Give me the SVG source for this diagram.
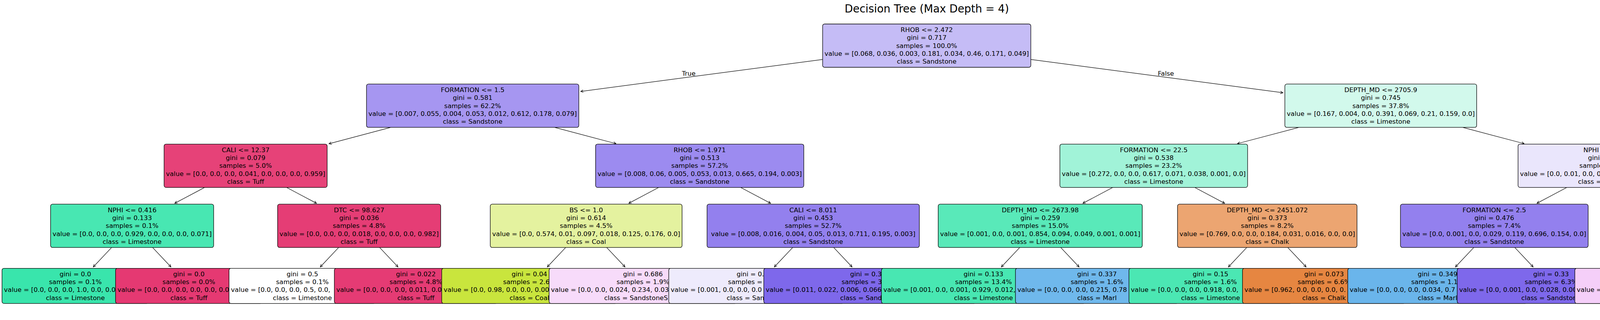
<svg xmlns="http://www.w3.org/2000/svg" width="4772" height="820" viewBox="0 0 4772 820">
<style>
text{font-family:"DejaVu Sans","Liberation Sans",sans-serif;font-size:16.5px;fill:#000;text-anchor:middle}
.b{stroke:#000;stroke-width:1.3}
.e{stroke:#000;stroke-width:1.2;fill:none;marker-end:url(#ah)}
.t{font-size:27.5px}
.lt{text-anchor:end}
.lf,.s{text-anchor:start}
</style>
<defs>
<marker id="ah" markerUnits="userSpaceOnUse" viewBox="0 0 10 8" markerWidth="10" markerHeight="8" refX="7" refY="4" orient="auto" overflow="visible"><path d="M0.4,0.7L7,4L0.4,7.3" fill="none" stroke="#000" stroke-width="1.2"/></marker>
</defs>
<rect width="4772" height="820" fill="#fff"/>
<text class="t" x="2372.7" y="31.7">Decision Tree (Max Depth = 4)</text>
<g id="connectors">
<line class="e" x1="2105.9" y1="152.3" x2="1486.7" y2="234.3"/>
<line class="e" x1="2638.9" y1="152.3" x2="3284.3" y2="237.7"/>
<line class="e" x1="1000.4" y1="326.4" x2="842.2" y2="368.3"/>
<line class="e" x1="1419.6" y1="326.4" x2="1576.8" y2="368.0"/>
<line class="e" x1="3325.2" y1="326.4" x2="3168.0" y2="368.0"/>
<line class="e" x1="3744.4" y1="326.4" x2="3901.6" y2="368.0"/>
<line class="e" x1="524.0" y1="480.3" x2="447.4" y2="520.9"/>
<line class="e" x1="733.6" y1="480.3" x2="810.2" y2="520.9"/>
<line class="e" x1="1686.4" y1="480.3" x2="1609.8" y2="520.9"/>
<line class="e" x1="1896.0" y1="480.3" x2="1972.6" y2="520.9"/>
<line class="e" x1="2848.8" y1="480.3" x2="2772.2" y2="520.9"/>
<line class="e" x1="3058.4" y1="480.3" x2="3135.0" y2="520.9"/>
<line class="e" x1="4011.2" y1="480.3" x2="3934.6" y2="520.9"/>
<line class="e" x1="4220.8" y1="480.3" x2="4297.4" y2="520.9"/>
<line class="e" x1="285.8" y1="634.2" x2="238.8" y2="684.0"/>
<line class="e" x1="390.6" y1="634.2" x2="437.6" y2="684.0"/>
<line class="e" x1="867.0" y1="634.2" x2="820.0" y2="684.0"/>
<line class="e" x1="971.8" y1="634.2" x2="1018.8" y2="684.0"/>
<line class="e" x1="1448.2" y1="634.2" x2="1401.2" y2="684.0"/>
<line class="e" x1="1553.0" y1="634.2" x2="1600.0" y2="684.0"/>
<line class="e" x1="2029.4" y1="634.2" x2="1982.4" y2="684.0"/>
<line class="e" x1="2134.2" y1="634.2" x2="2181.2" y2="684.0"/>
<line class="e" x1="2610.6" y1="634.2" x2="2563.6" y2="684.0"/>
<line class="e" x1="2715.4" y1="634.2" x2="2762.4" y2="684.0"/>
<line class="e" x1="3191.8" y1="634.2" x2="3144.8" y2="684.0"/>
<line class="e" x1="3296.6" y1="634.2" x2="3343.6" y2="684.0"/>
<line class="e" x1="3773.0" y1="634.2" x2="3726.0" y2="684.0"/>
<line class="e" x1="3877.8" y1="634.2" x2="3924.8" y2="684.0"/>
<line class="e" x1="4354.2" y1="634.2" x2="4307.2" y2="684.0"/>
<line class="e" x1="4459.0" y1="634.2" x2="4506.0" y2="684.0"/>
<text class="lt" x="1780.7" y="194">True</text>
<text class="lf" x="2964.1" y="194">False</text>
</g>
<g id="node-root">
<rect class="b" x="2105.9" y="61.5" width="533" height="111" rx="5" fill="#c5bcf6"/>
<text><tspan x="2372.4" y="81.8">RHOB &lt;= 2.472</tspan><tspan x="2372.4" y="102.2">gini = 0.717</tspan><tspan x="2372.4" y="122.6">samples = 100.0%</tspan><tspan x="2372.4" y="143.0">value = [0.068, 0.036, 0.003, 0.181, 0.034, 0.46, 0.171, 0.049]</tspan><tspan x="2372.4" y="163.4">class = Sandstone</tspan></text>
</g>
<g id="node-1">
<rect class="b" x="938.25" y="215.4" width="543.5" height="111" rx="5" fill="#a696f1"/>
<text><tspan x="1210" y="235.7">FORMATION &lt;= 1.5</tspan><tspan x="1210" y="256.1">gini = 0.581</tspan><tspan x="1210" y="276.5">samples = 62.2%</tspan><tspan x="1210" y="296.9">value = [0.007, 0.055, 0.004, 0.053, 0.012, 0.612, 0.178, 0.079]</tspan><tspan x="1210" y="317.3">class = Sandstone</tspan></text>
</g>
<g id="node-2">
<rect class="b" x="3289.3" y="215.4" width="491" height="111" rx="5" fill="#d2f9ec"/>
<text><tspan x="3534.8" y="235.7">DEPTH_MD &lt;= 2705.9</tspan><tspan x="3534.8" y="256.1">gini = 0.745</tspan><tspan x="3534.8" y="276.5">samples = 37.8%</tspan><tspan x="3534.8" y="296.9">value = [0.167, 0.004, 0.0, 0.391, 0.069, 0.21, 0.159, 0.0]</tspan><tspan x="3534.8" y="317.3">class = Limestone</tspan></text>
</g>
<g id="node-3">
<rect class="b" x="420.05" y="369.3" width="417.5" height="111" rx="5" fill="#e64278"/>
<text><tspan x="628.8" y="389.6">CALI &lt;= 12.37</tspan><tspan x="628.8" y="410.0">gini = 0.079</tspan><tspan x="628.8" y="430.4">samples = 5.0%</tspan><tspan x="628.8" y="450.8">value = [0.0, 0.0, 0.0, 0.041, 0.0, 0.0, 0.0, 0.959]</tspan><tspan x="628.8" y="471.2">class = Tuff</tspan></text>
</g>
<g id="node-4">
<rect class="b" x="1524.7" y="369.3" width="533" height="111" rx="5" fill="#9c8bf0"/>
<text><tspan x="1791.2" y="389.6">RHOB &lt;= 1.971</tspan><tspan x="1791.2" y="410.0">gini = 0.513</tspan><tspan x="1791.2" y="430.4">samples = 57.2%</tspan><tspan x="1791.2" y="450.8">value = [0.008, 0.06, 0.005, 0.053, 0.013, 0.665, 0.194, 0.003]</tspan><tspan x="1791.2" y="471.2">class = Sandstone</tspan></text>
</g>
<g id="node-5">
<rect class="b" x="2713.35" y="369.3" width="480.5" height="111" rx="5" fill="#a1f3d8"/>
<text><tspan x="2953.6" y="389.6">FORMATION &lt;= 22.5</tspan><tspan x="2953.6" y="410.0">gini = 0.538</tspan><tspan x="2953.6" y="430.4">samples = 23.2%</tspan><tspan x="2953.6" y="450.8">value = [0.272, 0.0, 0.0, 0.617, 0.071, 0.038, 0.001, 0.0]</tspan><tspan x="2953.6" y="471.2">class = Limestone</tspan></text>
</g>
<g id="node-6">
<rect class="b" x="3886.25" y="369.3" width="459.5" height="111" rx="5" fill="#eae6fc"/>
<text><tspan x="4116" y="389.6">NPHI &lt;= 0.207</tspan><tspan x="4116" y="410.0">gini = 0.593</tspan><tspan x="4116" y="430.4">samples = 14.6%</tspan><tspan x="4116" y="450.8">value = [0.0, 0.01, 0.0, 0.031, 0.066, 0.483, 0.41, 0.0]</tspan><tspan x="4116" y="471.2">class = Sandstone</tspan></text>
</g>
<g id="node-7">
<rect class="b" x="129.45" y="523.2" width="417.5" height="111" rx="5" fill="#48e7b2"/>
<text><tspan x="338.2" y="543.5">NPHI &lt;= 0.416</tspan><tspan x="338.2" y="563.9">gini = 0.133</tspan><tspan x="338.2" y="584.3">samples = 0.1%</tspan><tspan x="338.2" y="604.7">value = [0.0, 0.0, 0.0, 0.929, 0.0, 0.0, 0.0, 0.071]</tspan><tspan x="338.2" y="625.1">class = Limestone</tspan></text>
</g>
<g id="node-8">
<rect class="b" x="710.65" y="523.2" width="417.5" height="111" rx="5" fill="#e53d75"/>
<text><tspan x="919.4" y="543.5">DTC &lt;= 98.627</tspan><tspan x="919.4" y="563.9">gini = 0.036</tspan><tspan x="919.4" y="584.3">samples = 4.8%</tspan><tspan x="919.4" y="604.7">value = [0.0, 0.0, 0.0, 0.018, 0.0, 0.0, 0.0, 0.982]</tspan><tspan x="919.4" y="625.1">class = Tuff</tspan></text>
</g>
<g id="node-9">
<rect class="b" x="1255.1" y="523.2" width="491" height="111" rx="5" fill="#e4f29f"/>
<text><tspan x="1500.6" y="543.5">BS &lt;= 1.0</tspan><tspan x="1500.6" y="563.9">gini = 0.614</tspan><tspan x="1500.6" y="584.3">samples = 4.5%</tspan><tspan x="1500.6" y="604.7">value = [0.0, 0.574, 0.01, 0.097, 0.018, 0.125, 0.176, 0.0]</tspan><tspan x="1500.6" y="625.1">class = Coal</tspan></text>
</g>
<g id="node-10">
<rect class="b" x="1810.05" y="523.2" width="543.5" height="111" rx="5" fill="#9380ee"/>
<text><tspan x="2081.8" y="543.5">CALI &lt;= 8.011</tspan><tspan x="2081.8" y="563.9">gini = 0.453</tspan><tspan x="2081.8" y="584.3">samples = 52.7%</tspan><tspan x="2081.8" y="604.7">value = [0.008, 0.016, 0.004, 0.05, 0.013, 0.711, 0.195, 0.003]</tspan><tspan x="2081.8" y="625.1">class = Sandstone</tspan></text>
</g>
<g id="node-11">
<rect class="b" x="2401.75" y="523.2" width="522.5" height="111" rx="5" fill="#59e9b9"/>
<text><tspan x="2663" y="543.5">DEPTH_MD &lt;= 2673.98</tspan><tspan x="2663" y="563.9">gini = 0.259</tspan><tspan x="2663" y="584.3">samples = 15.0%</tspan><tspan x="2663" y="604.7">value = [0.001, 0.0, 0.001, 0.854, 0.094, 0.049, 0.001, 0.001]</tspan><tspan x="2663" y="625.1">class = Limestone</tspan></text>
</g>
<g id="node-12">
<rect class="b" x="3014.45" y="523.2" width="459.5" height="111" rx="5" fill="#eca571"/>
<text><tspan x="3244.2" y="543.5">DEPTH_MD &lt;= 2451.072</tspan><tspan x="3244.2" y="563.9">gini = 0.373</tspan><tspan x="3244.2" y="584.3">samples = 8.2%</tspan><tspan x="3244.2" y="604.7">value = [0.769, 0.0, 0.0, 0.184, 0.031, 0.016, 0.0, 0.0]</tspan><tspan x="3244.2" y="625.1">class = Chalk</tspan></text>
</g>
<g id="node-13">
<rect class="b" x="3585.15" y="523.2" width="480.5" height="111" rx="5" fill="#9380ee"/>
<text><tspan x="3825.4" y="543.5">FORMATION &lt;= 2.5</tspan><tspan x="3825.4" y="563.9">gini = 0.476</tspan><tspan x="3825.4" y="584.3">samples = 7.4%</tspan><tspan x="3825.4" y="604.7">value = [0.0, 0.001, 0.0, 0.029, 0.119, 0.696, 0.154, 0.0]</tspan><tspan x="3825.4" y="625.1">class = Sandstone</tspan></text>
</g>
<g id="node-14">
<rect class="b" x="4171.6" y="523.2" width="470" height="111" rx="5" fill="#e992f1"/>
<text><tspan x="4406.6" y="543.5">DEPTH_MD &lt;= 3480.652</tspan><tspan x="4406.6" y="563.9">gini = 0.478</tspan><tspan x="4406.6" y="584.3">samples = 7.2%</tspan><tspan x="4406.6" y="604.7">value = [0.0, 0.019, 0.0, 0.032, 0.012, 0.266, 0.67, 0.0]</tspan><tspan x="4406.6" y="625.1">class = SandstoneShale</tspan></text>
</g>
<g id="leaf-0">
<rect class="b" x="5.15" y="687.6" width="375.5" height="90" rx="5" fill="#39e5ac"/>
<text><tspan x="192.9" y="707.6">gini = 0.0</tspan><tspan x="192.9" y="728.0">samples = 0.1%</tspan><tspan x="192.9" y="768.8">class = Limestone</tspan></text>
<text class="s" x="10.1" y="748.4">value = [0.0, 0.0, 0.0, 1.0, 0.0, 0.0</text>
</g>
<g id="leaf-1">
<rect class="b" x="295.75" y="687.6" width="375.5" height="90" rx="5" fill="#e53972"/>
<text><tspan x="483.5" y="707.6">gini = 0.0</tspan><tspan x="483.5" y="728.0">samples = 0.0%</tspan><tspan x="483.5" y="768.8">class = Tuff</tspan></text>
<text class="s" x="300.7" y="748.4">value = [0.0, 0.0, 0.0, 0.0, 0.0, 0.0</text>
</g>
<g id="leaf-2">
<rect class="b" x="586.35" y="687.6" width="375.5" height="90" rx="5" fill="#ffffff"/>
<text><tspan x="774.1" y="707.6">gini = 0.5</tspan><tspan x="774.1" y="728.0">samples = 0.1%</tspan><tspan x="774.1" y="768.8">class = Limestone</tspan></text>
<text class="s" x="591.3" y="748.4">value = [0.0, 0.0, 0.0, 0.5, 0.0,</text>
</g>
<g id="leaf-3">
<rect class="b" x="855.95" y="687.6" width="417.5" height="90" rx="5" fill="#e53b74"/>
<text><tspan x="1064.7" y="707.6">gini = 0.022</tspan><tspan x="1064.7" y="728.0">samples = 4.8%</tspan><tspan x="1064.7" y="768.8">class = Tuff</tspan></text>
<text class="s" x="860.9" y="748.4">value = [0.0, 0.0, 0.0, 0.011, 0.0</text>
</g>
<g id="leaf-4">
<rect class="b" x="1130.8" y="687.6" width="449" height="90" rx="5" fill="#c9e53d"/>
<text><tspan x="1355.3" y="707.6">gini = 0.04</tspan><tspan x="1355.3" y="768.8">class = Coal</tspan></text>
<text class="s" x="1287.9" y="728.0">samples = 2.6</text>
<text class="s" x="1135.75" y="748.4">value = [0.0, 0.98, 0.0, 0.0, 0.00</text>
</g>
<g id="leaf-5">
<rect class="b" x="1405.65" y="687.6" width="480.5" height="90" rx="5" fill="#f7dbfa"/>
<text><tspan x="1645.9" y="707.6">gini = 0.686</tspan><tspan x="1645.9" y="728.0">samples = 1.9%</tspan></text>
<text class="s" x="1410.6" y="748.4">value = [0.0, 0.0, 0.024, 0.234, 0.03</text>
<text class="s" x="1546.7" y="768.8">class = SandstoneS</text>
</g>
<g id="leaf-6">
<rect class="b" x="1712.0" y="687.6" width="449" height="90" rx="5" fill="#eeebfc"/>
<text class="s" x="1885.7" y="707.6">gini = 0.</text>
<text class="s" x="1863.8" y="728.0">samples =</text>
<text class="s" x="1716.9" y="748.4">value = [0.001, 0.0, 0.0, 0.0</text>
<text class="s" x="1860.2" y="768.8">class = San</text>
</g>
<g id="leaf-7">
<rect class="b" x="1955.35" y="687.6" width="543.5" height="90" rx="5" fill="#7e68eb"/>
<text class="s" x="2176.3" y="707.6">gini = 0.3</text>
<text class="s" x="2154.45" y="728.0">samples = 3</text>
<text class="s" x="1960.3" y="748.4">value = [0.011, 0.022, 0.006, 0.066</text>
<text class="s" x="2150.8" y="768.8">class = Sand</text>
</g>
<g id="leaf-8">
<rect class="b" x="2256.45" y="687.6" width="522.5" height="90" rx="5" fill="#48e7b2"/>
<text><tspan x="2517.7" y="707.6">gini = 0.133</tspan><tspan x="2517.7" y="728.0">samples = 13.4%</tspan><tspan x="2517.7" y="768.8">class = Limestone</tspan></text>
<text class="s" x="2261.4" y="748.4">value = [0.001, 0.0, 0.001, 0.929, 0.012,</text>
</g>
<g id="leaf-9">
<rect class="b" x="2599.55" y="687.6" width="417.5" height="90" rx="5" fill="#6fb8ec"/>
<text><tspan x="2808.3" y="707.6">gini = 0.337</tspan><tspan x="2808.3" y="728.0">samples = 1.6%</tspan><tspan x="2808.3" y="768.8">class = Marl</tspan></text>
<text class="s" x="2604.5" y="748.4">value = [0.0, 0.0, 0.0, 0.215, 0.78</text>
</g>
<g id="leaf-10">
<rect class="b" x="2890.15" y="687.6" width="417.5" height="90" rx="5" fill="#4be7b3"/>
<text><tspan x="3098.9" y="707.6">gini = 0.15</tspan><tspan x="3098.9" y="728.0">samples = 1.6%</tspan><tspan x="3098.9" y="768.8">class = Limestone</tspan></text>
<text class="s" x="2895.1" y="748.4">value = [0.0, 0.0, 0.0, 0.918, 0.0,</text>
</g>
<g id="leaf-11">
<rect class="b" x="3180.75" y="687.6" width="417.5" height="90" rx="5" fill="#e68641"/>
<text><tspan x="3389.5" y="707.6">gini = 0.073</tspan><tspan x="3389.5" y="728.0">samples = 6.6%</tspan><tspan x="3389.5" y="768.8">class = Chalk</tspan></text>
<text class="s" x="3185.7" y="748.4">value = [0.962, 0.0, 0.0, 0.0, 0.</text>
</g>
<g id="leaf-12">
<rect class="b" x="3450.35" y="687.6" width="459.5" height="90" rx="5" fill="#6ab5eb"/>
<text><tspan x="3680.1" y="707.6">gini = 0.349</tspan><tspan x="3680.1" y="768.8">class = Marl</tspan></text>
<text class="s" x="3612.7" y="728.0">samples = 1.1</text>
<text class="s" x="3455.3" y="748.4">value = [0.0, 0.0, 0.0, 0.034, 0.7</text>
</g>
<g id="leaf-13">
<rect class="b" x="3730.45" y="687.6" width="480.5" height="90" rx="5" fill="#7e68eb"/>
<text><tspan x="3970.7" y="707.6">gini = 0.33</tspan><tspan x="3970.7" y="728.0">samples = 6.3%</tspan></text>
<text class="s" x="3735.4" y="748.4">value = [0.0, 0.001, 0.0, 0.028, 0.00</text>
<text class="s" x="3894.4" y="768.8">class = Sandston</text>
</g>
<g id="leaf-14">
<rect class="b" x="4031.55" y="687.6" width="459.5" height="90" rx="5" fill="#f5cff9"/>
<text><tspan x="4261.3" y="707.6">gini = 0.583</tspan><tspan x="4261.3" y="728.0">samples = 4.4%</tspan></text>
<text class="s" x="4036.5" y="748.4">value = [0.0, 0.026, 0.0, 0.053, 0.02</text>
<text class="s" x="4162.15" y="768.8">class = SandstoneSh</text>
</g>
<g id="leaf-15">
<rect class="b" x="4337.9" y="687.6" width="428" height="90" rx="5" fill="#da49e7"/>
<text><tspan x="4551.9" y="707.6">gini = 0.142</tspan><tspan x="4551.9" y="728.0">samples = 2.8%</tspan><tspan x="4551.9" y="748.4">value = [0.0, 0.006, 0.0, 0.0, 0.0, 0.07, 0.923, 0.0]</tspan><tspan x="4551.9" y="768.8">class = SandstoneShale</tspan></text>
</g>
</svg>
